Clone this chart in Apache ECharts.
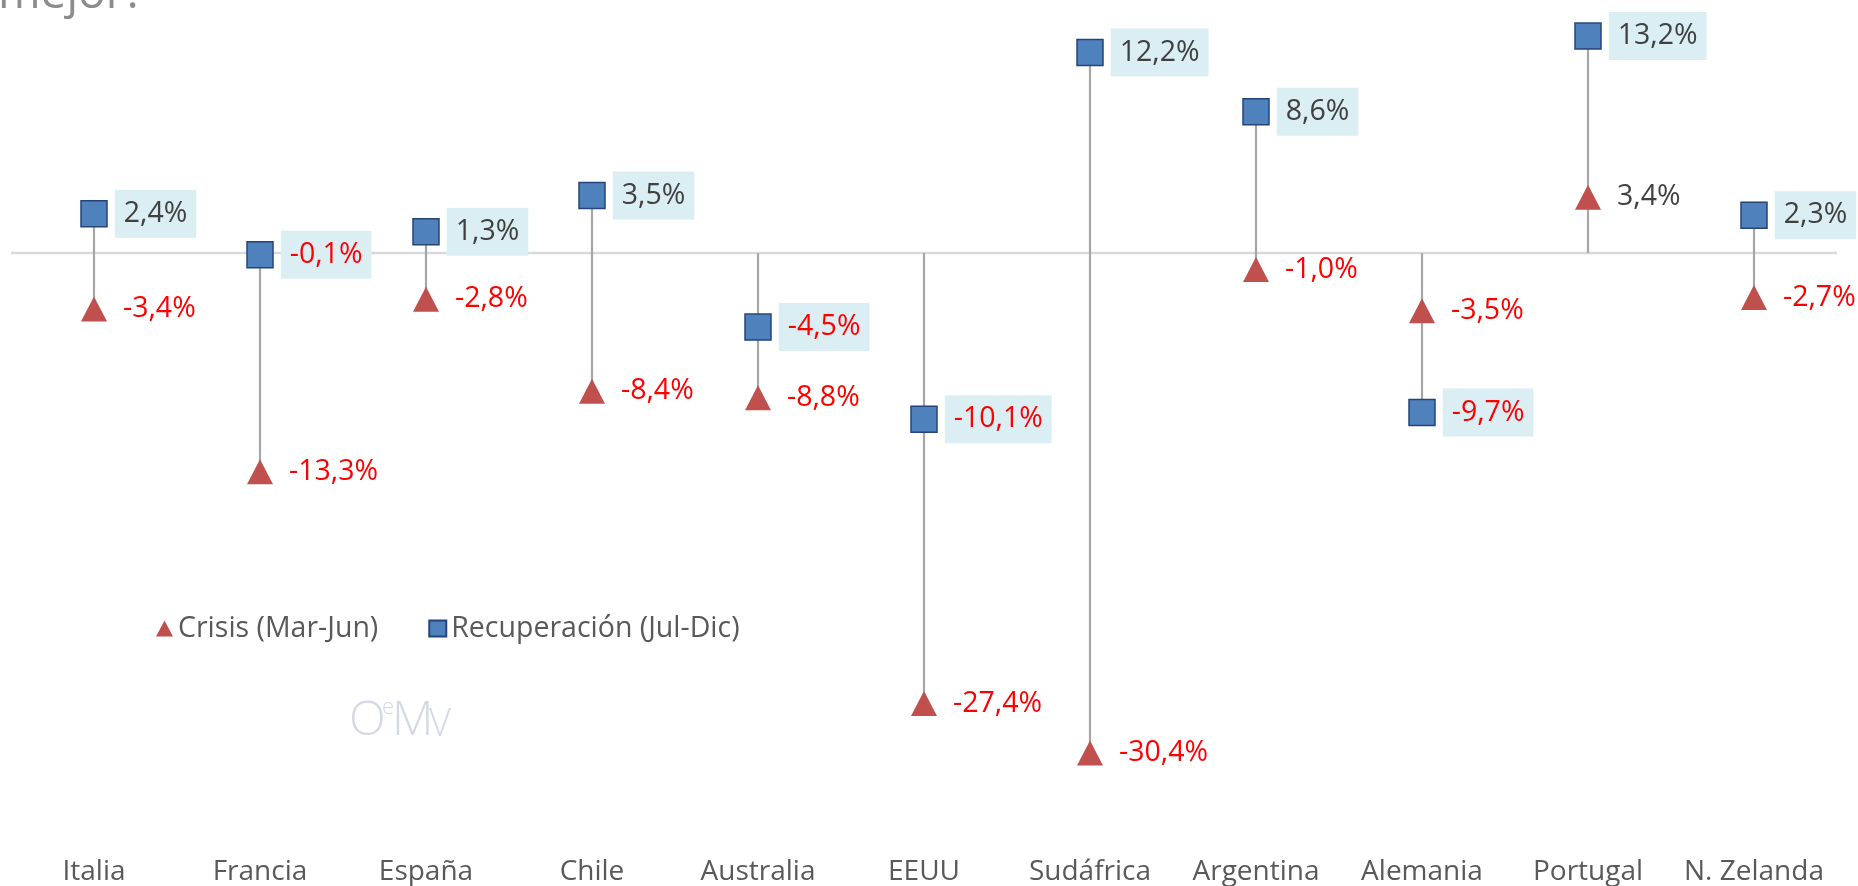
<!DOCTYPE html>
<html>
<head>
<meta charset="utf-8">
<script src="https://cdn.jsdelivr.net/npm/echarts@6/dist/echarts.min.js"></script>
<style>
html,body{margin:0;padding:0;background:#fff;}
#c{width:1858px;height:886px;}
</style>
</head>
<body>
<div id="c"></div>
<script>
const categories = ['Italia','Francia','España','Chile','Australia','EEUU','Sudáfrica','Argentina','Alemania','Portugal','N. Zelanda'];
const crisis = [-3.4,-13.3,-2.8,-8.4,-8.8,-27.4,-30.4,-1.0,-3.5,3.4,-2.7];
const recuperacion = [2.4,-0.1,1.3,3.5,-4.5,-10.1,12.2,8.6,-9.7,13.2,2.3];
const seriesNames = ['Crisis (Mar-Jun)','Recuperación (Jul-Dic)'];

const FONT = 'Open Sans';
const RED = '#ff0000';
const DARK = '#404040';
const fmt = v => v.toFixed(1).replace('.', ',') + '%';

const chart = echarts.init(document.getElementById('c'), null, {renderer:'canvas'});

const stemData = categories.map((c, i) => [i, crisis[i], recuperacion[i]]);

const labelBase = {
  show: true,
  position: 'right',
  distance: 7,
  fontFamily: FONT,
  fontSize: 28.5,
  lineHeight: 28,
  padding: [12, 9, 8, 9],
  formatter: p => fmt(p.value[1] !== undefined ? p.value[1] : p.value)
};

const crisisData = crisis.map((v, i) => ({
  value: [i, v],
  label: { color: v < 0 ? RED : DARK }
}));
const recData = recuperacion.map((v, i) => ({
  value: [i, v],
  label: { color: v < 0 ? RED : DARK }
}));

const option = {
  animation: false,
  textStyle: { fontFamily: FONT },
  grid: { left: 11, right: 21, top: 6.5, bottom: 56.5, containLabel: false },
  xAxis: {
    type: 'category',
    data: categories,
    boundaryGap: true,
    axisLine: { show: false, onZero: false },
    axisTick: { show: false },
    splitLine: { show: false },
    axisLabel: { margin: 29.5, fontSize: 28, color: '#595959', fontFamily: FONT, interval: 0 }
  },
  yAxis: {
    type: 'value', min: -35, max: 15, show: false
  },
  legend: {
    data: seriesNames,
    left: 151, top: 609,
    itemWidth: 17, itemHeight: 16,
    itemGap: 50,
    textStyle: { fontSize: 28.5, color: '#595959', fontFamily: FONT, lineHeight: 28 },
    selectedMode: false
  },
  graphic: [
    {
      type: 'text', left: -2, top: -28, silent: true,
      style: { text: 'mejor?', font: '46px "Open Sans"', fill: '#8c8c8c' }
    },
    {
      type: 'group', left: 349, top: 697, silent: true,
      children: [
        { type: 'text', x: 0, y: 0, style: { text: 'O', font: '300 48px "Open Sans"', fill: '#d3d9e4' } },
        { type: 'text', x: 33, y: 0, style: { text: 'e', font: '300 22px "Open Sans"', fill: '#d3d9e4' } },
        { type: 'text', x: 43, y: 0, style: { text: 'M', font: '300 48px "Open Sans"', fill: '#d3d9e4' } },
        { type: 'text', x: 80, y: 9, style: { text: 'V', font: '300 38px "Open Sans"', fill: '#d3d9e4' } }
      ]
    }
  ],
  series: [
    {
      type: 'custom',
      name: 'zero',
      z: 1,
      silent: true,
      data: [[0, 0]],
      encode: { x: 0, y: 1 },
      renderItem: (params, api) => {
        const cs = params.coordSys;
        const y = api.coord([0, api.value(1)])[1];
        return {
          type: 'line',
          shape: { x1: cs.x, y1: y, x2: cs.x + cs.width, y2: y },
          style: { stroke: '#d9d9d9', lineWidth: 2.5 }
        };
      }
    },
    {
      type: 'custom',
      name: 'stems',
      z: 2,
      silent: true,
      data: stemData,
      encode: { x: 0, y: [1, 2] },
      renderItem: (params, api) => {
        const i = api.value(0);
        const a = api.value(1), b = api.value(2);
        const lo = Math.min(0, a, b), hi = Math.max(0, a, b);
        const p1 = api.coord([i, lo]);
        const p2 = api.coord([i, hi]);
        return {
          type: 'line',
          shape: { x1: p1[0], y1: p1[1], x2: p2[0], y2: p2[1] },
          style: { stroke: '#a6a6a6', lineWidth: 2.2 }
        };
      }
    },
    {
      type: 'scatter',
      name: seriesNames[0],
      z: 3,
      symbol: 'triangle',
      symbolSize: [26, 25],
      itemStyle: { color: '#c0504d', opacity: 1 },
      label: Object.assign({}, labelBase),
      data: crisisData
    },
    {
      type: 'scatter',
      name: seriesNames[1],
      z: 4,
      symbol: 'rect',
      symbolSize: 26,
      itemStyle: { color: '#4f81bd', borderColor: '#264478', borderWidth: 1.5, opacity: 1 },
      label: Object.assign({}, labelBase, { backgroundColor: '#daeef3' }),
      data: recData
    }
  ]
};
chart.setOption(option);
</script>
</body>
</html>
